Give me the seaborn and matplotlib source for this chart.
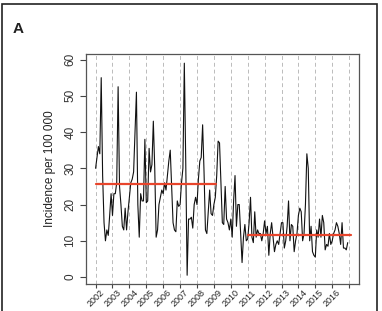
import numpy as np
import pandas as pd
import matplotlib
matplotlib.use("Agg")
import matplotlib.pyplot as plt
import matplotlib.patches as mpatches
import seaborn as sns

# Monthly incidence per 100 000 (Jan..Dec each year)
INCIDENCE = {
    2002: [30, 33, 36, 34, 55, 28, 15, 10, 13, 11.5, 17, 23],
    2003: [17, 23, 23, 26, 52.5, 25, 20, 14, 13, 19, 13, 18],
    2004: [22, 26, 27, 29, 40, 51, 20, 11, 23, 21, 21, 38],
    2005: [20.5, 21, 35.5, 29, 31, 43, 30, 11, 13, 20, 22, 24],
    2006: [23, 26, 24, 28, 32, 35, 25, 15, 13, 12.5, 21, 19.5],
    2007: [20, 26, 30, 59, 32, 0.5, 16, 16, 16.5, 13.5, 20, 22],
    2008: [20, 27, 32, 33, 42, 29, 13, 12, 18, 24, 17.5, 17],
    2009: [20, 22, 28, 37.5, 37, 26, 15, 14.5, 25, 16, 15, 13],
    2010: [16, 11, 21, 28, 14, 20, 20, 12, 4, 11, 14.5, 10],
    2011: [10.5, 15, 22, 11, 9.5, 18, 11, 13, 12, 12, 10, 12],
    2012: [15.5, 12, 14, 6, 12, 15, 11, 7, 9, 10, 9, 12],
    2013: [15, 15, 8, 10, 14, 21, 10, 14.5, 14, 7, 10, 12],
    2014: [17, 19, 18, 10, 12, 20, 34, 30, 10, 14, 7, 6],
    2015: [5.5, 13, 11, 16, 11, 17, 15, 7.5, 9, 8.5, 12, 9],
    2016: [10, 12, 13, 15, 14, 12, 9, 15, 8, 8, 7.5, 9.5],
}

# Period means (red segments)
MEAN_VALUES = [25.6, 11.7]
MEAN_STARTS = [2002.0, 2011.0]
MEAN_ENDS = [2009.1, 2017.1]

YEAR_TICKS = list(range(2002, 2018))
YEAR_LABELS = [str(y) for y in range(2002, 2017)] + [""]
Y_TICKS = [0, 10, 20, 30, 40, 50, 60]

rows = []
for year, vals in INCIDENCE.items():
    for month, v in enumerate(vals):
        rows.append({"time": year + month / 12.0, "incidence": v})
df = pd.DataFrame(rows)

sns.set_style("white")
plt.rcParams["font.family"] = ["Liberation Sans", "DejaVu Sans"]

fig = plt.figure(figsize=(3.82, 3.11), dpi=100)
ax = fig.add_axes([0.225, 0.087, 0.715, 0.739])

for yr in YEAR_TICKS:
    ax.axvline(yr, color="#bbbbbb", linestyle=(0, (4, 3)), linewidth=0.7, zorder=0)

sns.lineplot(data=df, x="time", y="incidence", ax=ax, color="#111111",
             linewidth=0.8, zorder=2)

for val, x0, x1 in zip(MEAN_VALUES, MEAN_STARTS, MEAN_ENDS):
    ax.plot([x0, x1], [val, val], color="#e8452c", linewidth=1.6, zorder=3)

ax.set_xlim(2001.43, 2017.59)
ax.set_ylim(-1.9, 61.5)
ax.set_xticks(YEAR_TICKS)
ax.set_xticklabels(YEAR_LABELS, rotation=45, ha="center", va="top",
                   fontsize=6.5, color="#222222")
ax.set_yticks(Y_TICKS)
ax.set_yticklabels([str(t) for t in Y_TICKS], rotation=90, va="center",
                   fontsize=8.5, color="#333333")
ax.tick_params(axis="x", length=3, width=0.8, color="#444444", pad=0, bottom=True)
ax.tick_params(axis="y", length=4, width=0.8, color="#444444", pad=3, left=True)
ax.set_xlabel("")
ax.set_ylabel("Incidence per 100 000", fontsize=8.5, color="#222222", labelpad=6)
for s in ax.spines.values():
    s.set_color("#555555")
    s.set_linewidth(0.9)

fig.text(0.033, 0.908, "A", fontsize=11, fontweight="bold", color="#222222",
         va="center", ha="left")

frame = mpatches.Rectangle((0.006, -0.05), 0.982, 1.037, transform=fig.transFigure,
                           fill=False, edgecolor="#222222", linewidth=1.2)
fig.patches.append(frame)

fig.savefig("out.png", dpi=100)
